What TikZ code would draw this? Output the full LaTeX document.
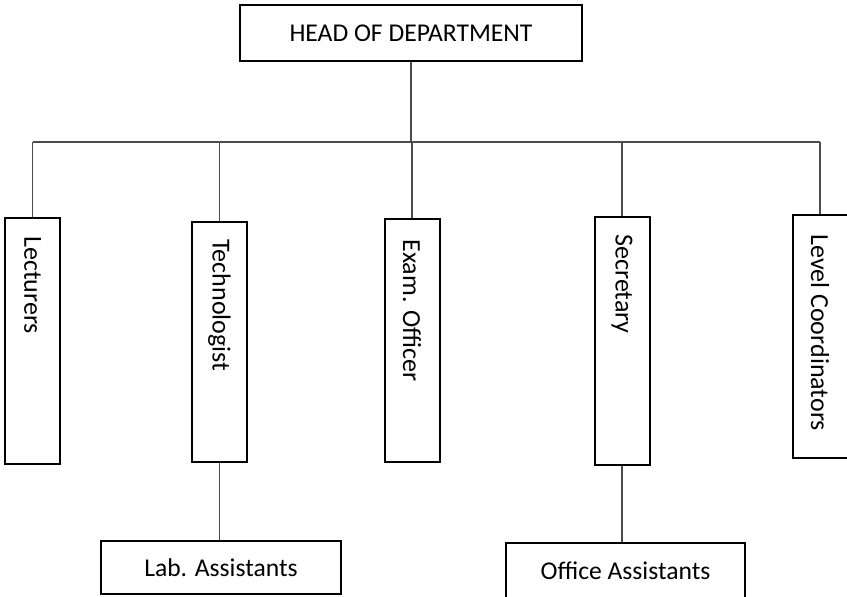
\documentclass[tikz,border=0pt]{standalone}
\usepackage{fontspec}
\setmainfont{Carlito}
\usetikzlibrary{calc}

\begin{document}
\begin{tikzpicture}[x=0.5pt,y=-0.5pt,
  box/.style={draw,line width=1pt,inner sep=0pt,font=\fontsize{12.8}{15}\selectfont},
  vbox/.style={box,minimum width=27.5pt},
  vtext/.style={inner sep=0pt,rotate=-90,anchor=west,font=\fontsize{13}{15}\selectfont},
  link/.style={line width=0.7pt,black!70}]
\useasboundingbox (0,0) rectangle (847,596);

\node[box,minimum width=171pt,minimum height=28pt] (head) at (411,33) {HEAD OF DEPARTMENT};

\node[vbox,minimum height=123pt] (lect) at (32.5,341) {};
\node[vbox,minimum height=120pt] (tech) at (219.5,342) {};
\node[vbox,minimum height=121.5pt] (exam) at (412,340.5) {};
\node[vbox,minimum height=124pt] (secr) at (622,341) {};
\node[vbox,minimum height=121.5pt,minimum width=29pt] (levl) at (822,336.5) {};

\node[vtext] at ($(lect.north)+(0,19)$) {Lecturers};
\node[vtext] at ($(tech.north)+(0,18)$) {Technologist};
\node[vtext] at ($(exam.north)+(0,21)$) {Exam. Officer};
\node[vtext] at ($(secr.north)+(0,18)$) {Secretary};
\node[vtext] at ($(levl.north)+(-2,20)$) {Level Coordinators};

\node[box,minimum width=120pt,minimum height=26.5pt] (lab) at (221,567.5) {Lab. Assistants};
\node[box,minimum width=119.5pt,minimum height=28pt] (office) at (625.5,571) {Office Assistants};

% connectors
\coordinate (bus) at (411,142);
\draw[link] (lect.north |- bus) -- ($(levl.north |- bus)+(-2,0)$);
\draw[link] (head.south) -- (head.south |- bus);
\foreach \n in {lect,tech,exam,secr}
  \draw[link] (\n.north) -- (\n.north |- bus);
\draw[link] ($(levl.north)+(-2,0)$) -- ($(levl.north |- bus)+(-2,0)$);
\draw[link] (tech.south) -- (tech.south |- lab.north);
\draw[link] (secr.south) -- (secr.south |- office.north);
\end{tikzpicture}
\end{document}
